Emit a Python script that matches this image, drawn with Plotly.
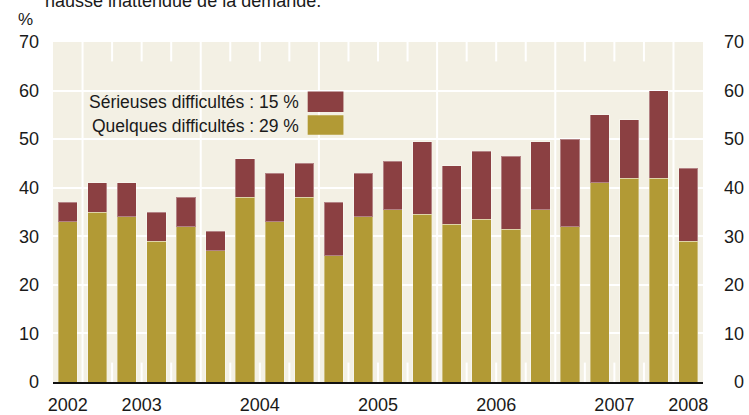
import plotly.graph_objects as go

# ---- data ----
quarters = ["T4 2002",
            "T1 2003", "T2 2003", "T3 2003", "T4 2003",
            "T1 2004", "T2 2004", "T3 2004", "T4 2004",
            "T1 2005", "T2 2005", "T3 2005", "T4 2005",
            "T1 2006", "T2 2006", "T3 2006", "T4 2006",
            "T1 2007", "T2 2007", "T3 2007", "T4 2007",
            "T1 2008"]
quelques = [33, 35, 34, 29, 32, 27, 38, 33, 38, 26, 34, 35.5, 34.5, 32.5, 33.5,
            31.5, 35.5, 32, 41, 42, 42, 29]
serieuses = [4, 6, 7, 6, 6, 4, 8, 10, 7, 11, 9, 10, 15, 12, 14, 15, 14, 18, 14,
             12, 18, 15]
y_ticks = [0, 10, 20, 30, 40, 50, 60, 70]
legend_serieuses = "Sérieuses difficultés : 15 %"
legend_quelques = "Quelques difficultés : 29 %"
title_text = "hausse inattendue de la demande."

# ---- styling ----
GOLD = "#B29A35"
RED = "#8B4042"
BG = "#F3F0E4"
FONT = "Liberation Sans, Arial, sans-serif"

xs = list(range(len(quarters)))
years = [q.split()[1] for q in quarters]
year_order = []
for y in years:
    if y not in year_order:
        year_order.append(y)
year_pos = [sum(i for i, yy in enumerate(years) if yy == y) /
            sum(1 for yy in years if yy == y) for y in year_order]

fig = go.Figure()
fig.add_trace(go.Bar(x=xs, y=quelques, name="Quelques difficultés",
                     marker=dict(color=GOLD, line=dict(color="rgba(255,255,255,0.35)", width=1)),
                     yaxis="y"))
fig.add_trace(go.Bar(x=xs, y=serieuses, name="Sérieuses difficultés",
                     marker=dict(color=RED, line=dict(color="rgba(255,255,255,0.35)", width=1)),
                     yaxis="y"))
# invisible trace for right axis
fig.add_trace(go.Scatter(x=[xs[0]], y=[0], yaxis="y2", mode="markers",
                         marker=dict(opacity=0), showlegend=False, hoverinfo="skip"))

shapes = []
for i in range(1, len(quarters)):
    if years[i] != years[i - 1]:
        shapes.append(dict(type="line", xref="x", yref="paper", x0=i - 0.5, x1=i - 0.5,
                           y0=0, y1=1, line=dict(color="white", width=2), layer="below"))
    else:
        for (a, b) in [(0, 4), (66, 70)]:
            shapes.append(dict(type="line", xref="x", yref="y", x0=i - 0.5, x1=i - 0.5,
                               y0=a, y1=b, line=dict(color="white", width=2), layer="below"))
# legend swatches
shapes.append(dict(type="rect", xref="x", yref="y", x0=8.12, x1=9.33, y0=55.6, y1=59.8,
                   fillcolor=RED, line=dict(width=0)))
shapes.append(dict(type="rect", xref="x", yref="y", x0=8.12, x1=9.33, y0=50.9, y1=54.9,
                   fillcolor=GOLD, line=dict(width=0)))

annotations = [
    dict(text=legend_serieuses, xref="x", yref="y", x=7.88, y=57.7, xanchor="right",
         yanchor="middle", showarrow=False, font=dict(size=17.5, color="#1a1a1a", family=FONT)),
    dict(text=legend_quelques, xref="x", yref="y", x=7.88, y=52.8, xanchor="right",
         yanchor="middle", showarrow=False, font=dict(size=17.5, color="#1a1a1a", family=FONT)),
    dict(text="%", xref="paper", yref="paper", x=-0.053, y=1.067, xanchor="left",
         yanchor="middle", showarrow=False, font=dict(size=17, color="#1a1a1a", family=FONT)),
    dict(text=title_text, xref="paper", yref="paper", x=-0.015, y=1.122, xanchor="left",
         yanchor="middle", showarrow=False, font=dict(size=18, color="#1a1a1a", family=FONT)),
]

fig.update_layout(
    width=749, height=415,
    margin=dict(l=53, r=0, t=42, b=26),
    paper_bgcolor="white", plot_bgcolor=BG,
    barmode="stack", bargap=0.35,
    showlegend=False,
    font=dict(family=FONT, size=18, color="#1a1a1a"),
    xaxis=dict(domain=[0, 0.9407], range=[-0.5, len(quarters) - 0.5],
               tickmode="array", tickvals=year_pos, ticktext=year_order,
               showgrid=False, zeroline=False, ticks="", ticklabelstandoff=6,
               showline=True, linecolor="#111111", linewidth=1.5,
               tickfont=dict(size=18)),
    yaxis=dict(range=[0, 70], tickmode="array", tickvals=y_ticks,
               showgrid=True, gridcolor="white", gridwidth=2, zeroline=False,
               ticks="", ticklabelstandoff=13, tickfont=dict(size=18)),
    yaxis2=dict(range=[0, 70], tickmode="array", tickvals=y_ticks, overlaying="y",
                anchor="free", position=1, side="left", showgrid=False, zeroline=False,
                ticks="", ticklabelstandoff=0, tickfont=dict(size=18)),
    shapes=shapes, annotations=annotations,
)

fig.write_html("out.html", config={"displayModeBar": False},
               post_script="document.body.style.margin='0px';")
